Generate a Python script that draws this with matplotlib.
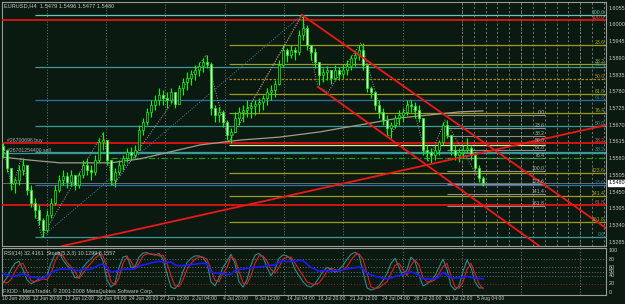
import matplotlib
matplotlib.use('Agg')
import matplotlib.pyplot as plt
from matplotlib.patches import Rectangle
import matplotlib.transforms as mtransforms

BG = '#0b1a10'
FG = '#c8c8c8'
W, H = 625, 304

# ---------------- data (8-hour bars, EURUSD) ----------------
open0 = 1.5600
highs = [1.5612, 1.5572, 1.5523, 1.5496, 1.5539, 1.5562, 1.5523, 1.5473, 1.5431, 1.5407,
         1.5365, 1.5391, 1.5431, 1.5473, 1.5506, 1.5523, 1.5516, 1.5523, 1.5503, 1.5516,
         1.5555, 1.5562, 1.5539, 1.5572, 1.5628, 1.5648, 1.5621, 1.5555, 1.5529, 1.5555,
         1.5572, 1.5595, 1.5598, 1.5605, 1.5671, 1.5694, 1.5727, 1.5753, 1.5769, 1.5792,
         1.5786, 1.5779, 1.5792, 1.5779, 1.5802, 1.5825, 1.5845, 1.5852, 1.5868, 1.5878,
         1.5891, 1.5901, 1.5878, 1.5737, 1.5730, 1.5720, 1.5687, 1.5661, 1.5714, 1.5730,
         1.5737, 1.5753, 1.5746, 1.5753, 1.5760, 1.5769, 1.5792, 1.5802, 1.5819, 1.5885,
         1.5934, 1.5924, 1.5934, 1.5927, 1.5983, 1.6033, 1.6000, 1.5934, 1.5924, 1.5878,
         1.5858, 1.5865, 1.5852, 1.5868, 1.5862, 1.5871, 1.5885, 1.5901, 1.5917, 1.5934,
         1.5941, 1.5868, 1.5799, 1.5769, 1.5753, 1.5727, 1.5704, 1.5681, 1.5704, 1.5720,
         1.5727, 1.5753, 1.5753, 1.5746, 1.5737, 1.5694, 1.5605, 1.5595, 1.5605, 1.5621,
         1.5681, 1.5687, 1.5638, 1.5605, 1.5595, 1.5605, 1.5628, 1.5605, 1.5582, 1.5539,
         1.5503]
lows = [1.5562, 1.5516, 1.5457, 1.5447, 1.5473, 1.5506, 1.5440, 1.5401, 1.5365, 1.5342,
        1.5302, 1.5319, 1.5365, 1.5407, 1.5450, 1.5473, 1.5463, 1.5470, 1.5457, 1.5463,
        1.5496, 1.5506, 1.5490, 1.5506, 1.5549, 1.5588, 1.5539, 1.5473, 1.5467, 1.5506,
        1.5523, 1.5549, 1.5555, 1.5562, 1.5588, 1.5638, 1.5671, 1.5697, 1.5720, 1.5737,
        1.5737, 1.5727, 1.5743, 1.5727, 1.5740, 1.5769, 1.5786, 1.5802, 1.5819, 1.5832,
        1.5845, 1.5858, 1.5704, 1.5681, 1.5681, 1.5664, 1.5621, 1.5612, 1.5648, 1.5671,
        1.5681, 1.5697, 1.5694, 1.5704, 1.5714, 1.5720, 1.5737, 1.5753, 1.5763, 1.5802,
        1.5862, 1.5878, 1.5891, 1.5885, 1.5901, 1.5950, 1.5917, 1.5885, 1.5858, 1.5802,
        1.5812, 1.5819, 1.5806, 1.5819, 1.5819, 1.5825, 1.5835, 1.5852, 1.5865, 1.5885,
        1.5852, 1.5779, 1.5760, 1.5720, 1.5694, 1.5671, 1.5638, 1.5628, 1.5661, 1.5671,
        1.5681, 1.5704, 1.5714, 1.5694, 1.5681, 1.5572, 1.5555, 1.5546, 1.5555, 1.5572,
        1.5605, 1.5628, 1.5572, 1.5555, 1.5549, 1.5562, 1.5582, 1.5555, 1.5523, 1.5483,
        1.5470]
closes = [1.5588, 1.5529, 1.5480, 1.5490, 1.5523, 1.5539, 1.5457, 1.5414, 1.5391, 1.5358,
          1.5325, 1.5374, 1.5414, 1.5457, 1.5490, 1.5503, 1.5483, 1.5506, 1.5473, 1.5506,
          1.5539, 1.5523, 1.5516, 1.5555, 1.5615, 1.5621, 1.5555, 1.5490, 1.5516, 1.5539,
          1.5562, 1.5582, 1.5572, 1.5588, 1.5654, 1.5681, 1.5714, 1.5737, 1.5753, 1.5769,
          1.5760, 1.5753, 1.5779, 1.5740, 1.5792, 1.5812, 1.5825, 1.5839, 1.5852, 1.5865,
          1.5878, 1.5871, 1.5727, 1.5704, 1.5714, 1.5681, 1.5638, 1.5648, 1.5694, 1.5714,
          1.5720, 1.5727, 1.5733, 1.5740, 1.5746, 1.5760, 1.5779, 1.5786, 1.5806, 1.5868,
          1.5917, 1.5901, 1.5917, 1.5911, 1.5967, 1.5990, 1.5934, 1.5911, 1.5878, 1.5835,
          1.5845, 1.5852, 1.5825, 1.5852, 1.5839, 1.5852, 1.5865, 1.5891, 1.5901, 1.5917,
          1.5868, 1.5792, 1.5779, 1.5737, 1.5714, 1.5687, 1.5661, 1.5671, 1.5694, 1.5704,
          1.5714, 1.5737, 1.5733, 1.5720, 1.5694, 1.5588, 1.5582, 1.5572, 1.5588, 1.5615,
          1.5671, 1.5638, 1.5588, 1.5572, 1.5582, 1.5588, 1.5595, 1.5572, 1.5529, 1.5496,
          1.5480]

rsi = [45, 42, 38, 38, 42, 44, 40, 37, 36, 34, 32, 40, 46, 52, 55, 56, 55, 56, 54, 52,
       56, 54, 56, 60, 66, 68, 60, 48, 50, 53, 55, 56, 55, 57, 63, 66, 68, 71, 73, 75,
       73, 72, 74, 66, 64, 64, 66, 67, 68, 69, 70, 69, 50, 46, 47, 45, 42, 44, 52, 55,
       56, 58, 59, 60, 61, 62, 64, 65, 66, 72, 76, 74, 75, 74, 78, 76, 68, 60, 56, 50,
       52, 53, 50, 53, 52, 54, 56, 58, 59, 61, 56, 45, 42, 38, 36, 34, 32, 34, 38, 40,
       42, 48, 49, 46, 41, 32, 32, 31, 33, 36, 48, 42, 36, 34, 35, 36, 38, 36, 34, 33,
       32.4]
stoch_main = [22, 35, 55, 70, 75, 55, 30, 20, 25, 32, 35, 40, 70, 92, 97, 78, 65, 55, 35, 35,
              60, 72, 80, 92, 96, 75, 30, 12, 22, 60, 85, 88, 60, 62, 85, 95, 96, 92, 90, 94,
              80, 45, 12, 8, 20, 50, 72, 82, 88, 88, 84, 70, 25, 15, 35, 60, 75, 92, 70, 25,
              12, 30, 65, 90, 94, 85, 60, 40, 55, 82, 90, 88, 80, 55, 40, 25, 15, 12, 20, 35,
              50, 60, 55, 48, 55, 65, 80, 92, 97, 90, 50, 10, 5, 8, 15, 28, 45, 70, 82, 60,
              38, 55, 85, 75, 40, 15, 20, 28, 40, 60, 80, 55, 15, 5, 15, 50, 78, 60, 25, 10,
              10.13]
stoch_signal = [25, 22, 30, 50, 66, 70, 50, 28, 25, 28, 32, 30, 45, 75, 93, 88, 72, 62, 50, 33,
                45, 60, 70, 82, 90, 88, 60, 25, 17, 35, 70, 85, 75, 58, 70, 88, 93, 93, 92, 88,
                90, 70, 40, 15, 13, 30, 55, 70, 80, 85, 85, 80, 55, 28, 25, 45, 60, 85, 80, 50,
                22, 20, 40, 70, 88, 88, 75, 55, 46, 60, 80, 85, 85, 70, 55, 40, 25, 20, 18, 22,
                35, 50, 58, 55, 50, 55, 62, 78, 90, 93, 80, 45, 12, 9, 10, 18, 25, 45, 65, 70,
                55, 40, 65, 78, 65, 35, 25, 25, 30, 45, 62, 70, 40, 12, 9, 25, 55, 70, 45, 20,
                8.16]

date_labels = ["10 Jun 2008", "12 Jun 20:00", "17 Jun 12:00", "20 Jun 04:00", "24 Jun 20:00",
               "27 Jun 12:00", "2 Jul 04:00", "4 Jul 20:00", "9 Jul 12:00", "14 Jul 04:00",
               "16 Jul 20:00", "21 Jul 12:00", "24 Jul 04:00", "28 Jul 20:00", "31 Jul 12:00",
               "5 Aug 04:00"]
date_pos = [-0.2, 7.5, 15.5, 23.5, 31.5, 39.25, 47.25, 55, 63, 71, 78.75, 86.75, 94.75, 102.75, 110.5, 118.5]

price_ticks = [1.6055, 1.6000, 1.5945, 1.5890, 1.5835, 1.5780, 1.5725, 1.5670, 1.5615,
               1.5560, 1.5505, 1.5450, 1.5395, 1.5340, 1.5285]
bid = 1.5480
osc_ticks = [100, 80, 60, 50, 40, 20, 0]

# Fibonacci retracements (anchor prices and levels)
fib1_low, fib1_high = 1.5302, 1.6033
fib1_levels = [0.0, 23.6, 38.2, 50.0, 61.8, 76.4, 100.0]
fib2_high, fib2_low = 1.6033, 1.5612
fib2_levels = [23.6, 38.2, 50.0, 61.8, 76.4, 123.6, 141.4, 161.8]
fib3_top, fib3_bottom = 1.5704, 1.5519
fib3_levels = [0.0, 23.6, 38.2, 50.0, 61.8, 76.4, 100.0, 123.6, 141.4, 161.8]

# horizontal lines (orders / levels)
red_levels = [1.6016, 1.5612, 1.5407]
red_level_labels = ["100.0", "38.2", "61.8"]
sell_level = 1.5579
green_level = 1.5562
pale_level = 1.5605

# trend lines (bar index, price)
rise_line = ([14.75, 151.0], [1.5272, 1.5671])
upper_desc = ([74.75, 151.0], [1.6033, 1.5329])
lower_desc = ([78.75, 134.0], [1.5796, 1.5273])
fib1_diag = ([9.75, 74.75], [1.5302, 1.6033])
fib2_diag = ([56.5, 74.75], [1.5615, 1.6033])

zz_x = [-0.25, 2.25, 4.5, 9.75, 25, 27.5, 50.75, 56.5, 74.75, 78.75, 81.25, 89.5, 96.5, 102, 106.25, 110.5, 120]
zz_p = [1.5621, 1.5457, 1.5562, 1.5302, 1.5644, 1.5470, 1.5901, 1.5615, 1.6033, 1.5796, 1.5779,
        1.5941, 1.5628, 1.5753, 1.5549, 1.5687, 1.5470]

ma_x = [-0.25, 6.75, 14.25, 26.75, 34.25, 41.75, 49.25, 59.25, 69.25, 79.25, 89.25, 99.25, 106.75, 114.25, 120]
ma_p = [1.5565, 1.5555, 1.5546, 1.5546, 1.5559, 1.5582, 1.5605, 1.5621, 1.5631, 1.5648, 1.5671,
        1.5694, 1.5704, 1.5714, 1.5717]

grid_x = [11, 25.75, 40.5, 55.5, 70.25, 85, 100, 114.75, 129.5, 144.25]
future_x = [114.75, 117.7, 120.7, 123.6, 126.6, 129.5, 132.5, 135.4, 138.4, 141.3, 144.3, 147.2, 150.2]

# ---------------- figure ----------------
plt.rcParams['font.family'] = ['Liberation Sans', 'DejaVu Sans']
fig = plt.figure(figsize=(W / 100, H / 100), dpi=100, facecolor=BG)

def pxbox(x0, y0, x1, y1):
    return [x0 / W, 1 - y1 / H, (x1 - x0) / W, (y1 - y0) / H]

ax = fig.add_axes(pxbox(2, 2, 606, 246), facecolor=BG)
ax2 = fig.add_axes(pxbox(2, 248, 606, 295), facecolor=BG)

XMIN, XMAX = -0.25, 150.75
YMIN, YMAX = 1.52722, 1.60757
for a in (ax, ax2):
    a.set_xlim(XMIN, XMAX)
    a.set_xticks([]); a.set_yticks([])
    for s in a.spines.values():
        s.set_color('#9a9a9a'); s.set_linewidth(0.8)
ax.set_ylim(YMIN, YMAX)
ax2.set_ylim(-7.3, 107.3)

FS = 3.7

# grid
for gx in grid_x:
    ax.axvline(gx, color='#8a8a7a', lw=0.6, ls=(0, (1.2, 2.2)), zorder=1)
    ax2.axvline(gx, color='#8a8a7a', lw=0.6, ls=(0, (1.2, 2.2)), zorder=1)
for fx in future_x:
    ax.axvline(fx, color='#9a9a9a', lw=0.5, ls=(0, (3, 3)), zorder=1)

# fib 1 (teal)
fib1_colors = ['#3a9a9a', '#2f6fa8', '#3a9a9a', '#3a9a9a', '#2f6fa8', '#3a9a9a', '#66c8b0']
for lv, col in zip(fib1_levels, fib1_colors):
    p = fib1_low + lv / 100 * (fib1_high - fib1_low)
    ax.hlines(p, 8, XMAX, color=col, lw=0.9, zorder=2)
    ax.text(150.4, p, f"{lv:.1f}", color=col, fontsize=FS, ha='right', va='bottom', zorder=6)

# fib 2 (olive)
for lv in fib2_levels:
    p = fib2_high - lv / 100 * (fib2_high - fib2_low)
    if lv == 50.0:
        ax.hlines(p, 56.5, XMAX, color='#a8841c', lw=0.9, ls=(0, (2, 1.2)), zorder=2)
        col = '#a8841c'
    else:
        ax.hlines(p, 56.5, XMAX, color='#9c9c1c', lw=0.9, zorder=2)
        col = '#a8a820'
    ax.text(150.4, p, f"{lv:.1f}", color=col, fontsize=FS, ha='right', va='bottom', zorder=6)

# fib 3 (gray)
for lv in fib3_levels:
    p = fib3_top - lv / 100 * (fib3_top - fib3_bottom)
    ax.hlines(p, 111, 135.5, color='#8c8c8c', lw=0.8, zorder=2)
    ax.text(135.5, p, f"{lv:.1f}", color='#b0b0b0', fontsize=FS, ha='right', va='bottom', zorder=6)

# horizontal order / level lines
ax.axhline(bid, color='#7a7a7a', lw=0.6, zorder=2)
for p, lab in zip(red_levels, red_level_labels):
    ax.axhline(p, color='#e01414', lw=1.3, zorder=3)
    ax.text(150.4, p, lab, color='#e05050', fontsize=FS, ha='right', va='bottom', zorder=6)
ax.axhline(sell_level, color='#3a9a9a', lw=0.9, zorder=2)
ax.hlines(green_level, 27, XMAX, color='#1f9a1f', lw=0.9, ls=(0, (5, 2, 1, 2)), zorder=2)
ax.hlines(pale_level, 56.5, 135.5, color='#e6e690', lw=0.9, zorder=2)
ax.text(1.0, 1.5612, "#26700696 buy", color='#b0b0b0', fontsize=FS, ha='left', va='bottom', zorder=6)
ax.text(1.0, 1.5579, "#26701254400 sell", color='#b0b0b0', fontsize=FS, ha='left', va='bottom', zorder=6)

# moving average and zigzag
ax.plot(ma_x, ma_p, color='#a49a8c', lw=0.9, zorder=3)
ax.plot(zz_x, zz_p, color='#9a9a9a', lw=0.7, ls=(0, (1, 1.5)), zorder=3)
ax.plot(*fib1_diag, color='#3f7fb0', lw=0.7, ls=(0, (1, 1.5)), zorder=3)
ax.plot(*fib2_diag, color='#b08c6c', lw=0.7, ls=(0, (1, 1.5)), zorder=3)

# candles
prev = open0
for i, (h, l, c) in enumerate(zip(highs, lows, closes)):
    o = prev
    ax.vlines(i, l, h, color='#00ff00', lw=0.8, zorder=4)
    bull = c >= o
    ax.add_patch(Rectangle((i - 0.32, min(o, c)), 0.64, max(abs(c - o), 0.00008),
                           facecolor=BG if bull else '#d8ffd8', edgecolor='#00ff00',
                           lw=0.5, zorder=5))
    prev = c

# red trend lines
for ln in (rise_line, upper_desc, lower_desc):
    ax.plot(*ln, color='#ee1818', lw=1.3, zorder=5)

# price axis labels
blend = mtransforms.blended_transform_factory(ax.transAxes, ax.transData)
for t in price_ticks:
    ax.text(1.005, t, f"{t:.4f}", transform=blend, color=FG, fontsize=3.9, ha='left',
            va='center', clip_on=False)
ax.text(1.005, bid, f"{bid:.4f}", transform=blend, color='black', fontsize=3.9, ha='left',
        va='center', clip_on=False, zorder=10,
        bbox=dict(boxstyle='square,pad=0.15', facecolor='white', edgecolor='white'))

fig.text(4 / W, 1 - 6 / H, "EURUSD,H4  1.5479 1.5496 1.5477 1.5480", color=FG,
         fontsize=4.1, ha='left', va='center')

# ---------------- oscillator panel ----------------
for lv, col in ((80, '#7a7a7a'), (60, '#7a7a7a'), (50, '#7a7a7a'), (40, '#7a7a7a'), (20, '#b02020')):
    ax2.axhline(lv, color=col, lw=0.6, ls=(0, (1.2, 2.2)), zorder=1)
xs = list(range(len(rsi)))
ax2.plot(xs, stoch_main, color='#2f8a8a', lw=0.8, zorder=3)
ax2.plot(xs, stoch_signal, color='#dd2020', lw=0.8, zorder=3)
ax2.plot(xs, rsi, color='#1a1aff', lw=1.2, zorder=4)

blend2 = mtransforms.blended_transform_factory(ax2.transAxes, ax2.transData)
for t in osc_ticks:
    ax2.text(1.005, t, str(t), transform=blend2, color=FG, fontsize=3.9, ha='left',
             va='center', clip_on=False)
ax2.text(0.004, 95, "RSI(14) 32.4161  Stoch(5,3,3) 10.1299 8.1557", transform=blend2,
         color=FG, fontsize=3.9, ha='left', va='center')
ax2.text(0.002, 1, "FXDD - MetaTrader, \u00a9 2001-2008 MetaQuotes Software Corp.", transform=blend2,
         color=FG, fontsize=3.9, ha='left', va='center')

# date labels
for pos, lab in zip(date_pos, date_labels):
    ax2.text(pos, -9.5, lab, color=FG, fontsize=3.6, ha='left', va='top', clip_on=False)

fig.savefig('out.png', dpi=100, facecolor=BG)
